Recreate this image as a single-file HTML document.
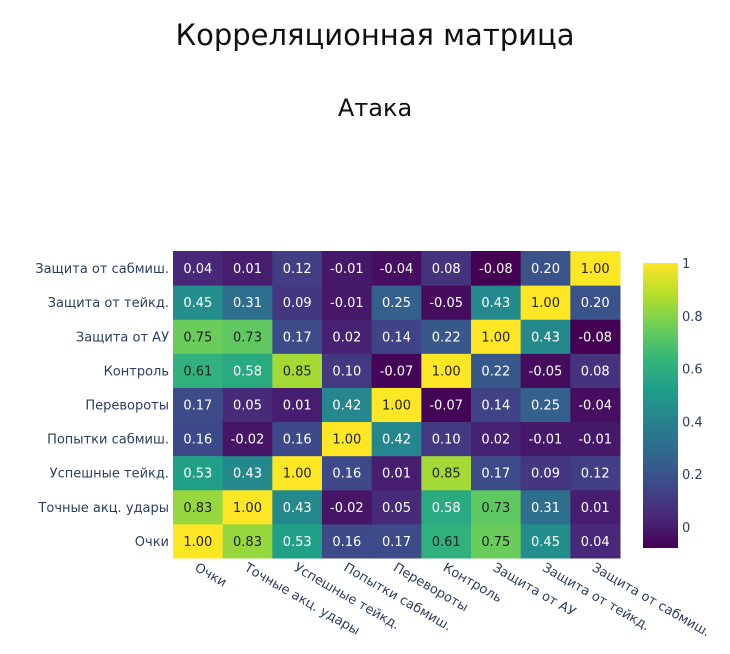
<!DOCTYPE html>
<html><head><meta charset="utf-8"><style>
body{margin:0;background:#fff;}
svg{display:block;font-family:"DejaVu Sans","Liberation Sans",sans-serif;}
</style></head><body>
<svg id="c" width="730" height="654">
<text x="375" y="45" text-anchor="middle" font-size="29" fill="#111">Корреляционная матрица</text>
<text x="375" y="116" text-anchor="middle" font-size="24" fill="#111">Атака</text>
<g id="cells"></g>
<g id="ylab"></g>
<g id="xlab"></g>
<defs><linearGradient id="vg" x1="0" y1="1" x2="0" y2="0"></linearGradient></defs>
<rect id="cbar" x="643" y="263" width="35" height="285" fill="url(#vg)"/>
<g id="cbt"></g>
</svg>
<script>
const labels=["Очки","Точные акц. удары","Успешные тейкд.","Попытки сабмиш.","Перевороты","Контроль","Защита от АУ","Защита от тейкд.","Защита от сабмиш."];
// rows indexed bottom (Очки) to top
const z=[
[1.00,0.83,0.53,0.16,0.17,0.61,0.75,0.45,0.04],
[0.83,1.00,0.43,-0.02,0.05,0.58,0.73,0.31,0.01],
[0.53,0.43,1.00,0.16,0.01,0.85,0.17,0.09,0.12],
[0.16,-0.02,0.16,1.00,0.42,0.10,0.02,-0.01,-0.01],
[0.17,0.05,0.01,0.42,1.00,-0.07,0.14,0.25,-0.04],
[0.61,0.58,0.85,0.10,-0.07,1.00,0.22,-0.05,0.08],
[0.75,0.73,0.17,0.02,0.14,0.22,1.00,0.43,-0.08],
[0.45,0.31,0.09,-0.01,0.25,-0.05,0.43,1.00,0.20],
[0.04,0.01,0.12,-0.01,-0.04,0.08,-0.08,0.20,1.00]];
const cbTicks=[0,0.2,0.4,0.6,0.8,1];
const cbTickLabels=["0","0.2","0.4","0.6","0.8","1"];
const zmin=-0.08,zmax=1;
const vir=["#440154","#482878","#3e4989","#31688e","#26828e","#1f9e89","#35b779","#6ece58","#b5de2b","#fde725"];
function hex(h){return [1,3,5].map(i=>parseInt(h.substr(i,2),16));}
function color(v){let t=(v-zmin)/(zmax-zmin);t=Math.max(0,Math.min(1,t));const p=t*(vir.length-1),i=Math.min(Math.floor(p),vir.length-2),f=p-i;const a=hex(vir[i]),b=hex(vir[i+1]);return "rgb("+a.map((c,k)=>Math.round(c+(b[k]-c)*f)).join(",")+")";}
const L=173,R=620,T=251,B=558,n=labels.length,cw=(R-L)/n,ch=(B-T)/n;
const xp=i=>L+i*cw, yp=r=>B-(r+1)*ch;
const NS="http://www.w3.org/2000/svg";
const cells=document.getElementById('cells');
for(let r=0;r<n;r++)for(let c=0;c<n;c++){
 const v=z[r][c];
 const rc=document.createElementNS(NS,'rect');
 rc.setAttribute('x',xp(c));rc.setAttribute('y',yp(r));rc.setAttribute('width',cw+0.5);rc.setAttribute('height',ch+0.5);rc.setAttribute('fill',color(v));
 
 
 cells.appendChild(rc);
 const t=document.createElementNS(NS,'text');
 t.setAttribute('x',xp(c)+cw/2);t.setAttribute('y',yp(r)+ch/2+5);t.setAttribute('text-anchor','middle');t.setAttribute('font-size','13');
 t.setAttribute('fill',v>0.6?'#222':'#fff');
 t.textContent=v.toFixed(2);
 
 
 cells.appendChild(t);
}
const yl=document.getElementById('ylab'),xl=document.getElementById('xlab');
labels.forEach((s,i)=>{
 const t=document.createElementNS(NS,'text');
 t.setAttribute('x',L-4);t.setAttribute('y',yp(i)+ch/2+5);t.setAttribute('text-anchor','end');t.setAttribute('font-size','13');t.setAttribute('fill','#2a3f5f');
 t.textContent=s;
 
 
 yl.appendChild(t);
 const u=document.createElementNS(NS,'text');
 const x=xp(i)+cw/2-4,y=B+12;
 u.setAttribute('transform','translate('+x+','+y+') rotate(30)');u.setAttribute('font-size','13');u.setAttribute('fill','#2a3f5f');
 u.textContent=s;
 
 
 xl.appendChild(u);
});
const g=document.getElementById('vg');
vir.forEach((c,i)=>{const s=document.createElementNS(NS,'stop');s.setAttribute('offset',i/(vir.length-1));s.setAttribute('stop-color',c);g.appendChild(s);});
const cbt=document.getElementById('cbt');
const cy=v=>548-(v-zmin)/(zmax-zmin)*285;
cbTicks.forEach((v,i)=>{
 const t=document.createElementNS(NS,'text');
 t.setAttribute('x',682);t.setAttribute('y',cy(v)+5);t.setAttribute('font-size','13');t.setAttribute('fill','#2a3f5f');
 t.textContent=cbTickLabels[i];
 
 
 cbt.appendChild(t);
});
</script>
</body></html>
